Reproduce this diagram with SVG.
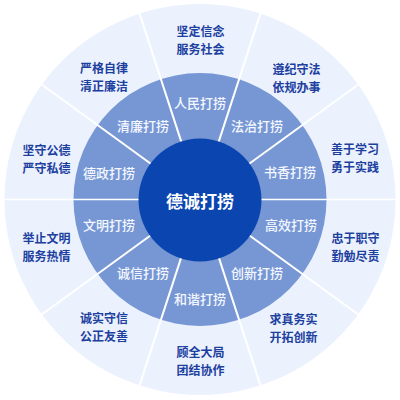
<svg xmlns="http://www.w3.org/2000/svg" width="400" height="400" viewBox="0 0 400 400">
<style>
.outer{fill:#EBF2FE}
.mid{fill:#7797D4}
.core{fill:#0A45B0}
.div{stroke:#FFFFFF;stroke-width:2;stroke-linecap:butt}
.ot{font-family:"Noto Sans CJK SC","Noto Sans",sans-serif;font-size:12px;font-weight:700;fill:#1D409E;text-anchor:middle;dominant-baseline:central}
.mt{font-family:"Noto Sans CJK SC","Noto Sans",sans-serif;font-size:13px;font-weight:500;fill:#F4F7FF;text-anchor:middle;dominant-baseline:central}
.ct{font-family:"Noto Sans CJK SC","Noto Sans",sans-serif;font-size:17px;font-weight:700;fill:#FFFFFF;text-anchor:middle;dominant-baseline:central}
</style>
<rect width="400" height="400" fill="#FFFFFF"/>
<g id="rings">
<circle class="outer" cx="200" cy="199.5" r="195.5"/>
<circle class="mid" cx="200" cy="199.5" r="126.5"/>
</g>
<g id="connectors">
<line class="div" x1="260" y1="199.5" x2="396" y2="199.5" style="stroke-width:1.5"/>
<line class="div" x1="248.5" y1="234.8" x2="358.6" y2="314.7"/>
<line class="div" x1="218.5" y1="256.6" x2="260.6" y2="385.9"/>
<line class="div" x1="181.5" y1="256.6" x2="139.4" y2="385.9"/>
<line class="div" x1="151.5" y1="234.8" x2="41.4" y2="314.7"/>
<line class="div" x1="140" y1="199.5" x2="4" y2="199.5" style="stroke-width:1.5"/>
<line class="div" x1="151.5" y1="164.2" x2="41.4" y2="84.3"/>
<line class="div" x1="181.5" y1="142.4" x2="139.4" y2="13.1"/>
<line class="div" x1="218.5" y1="142.4" x2="260.6" y2="13.1"/>
<line class="div" x1="248.5" y1="164.2" x2="358.6" y2="84.3"/>
</g>
<g id="center">
<circle class="core" cx="200" cy="200" r="61.5"/>
<text class="ct" x="200" y="200">德诚打捞</text>
</g>
<g id="mid-renmin"><text class="mt" x="200" y="102">人民打捞</text></g>
<g id="mid-fazhi"><text class="mt" x="257" y="125">法治打捞</text></g>
<g id="mid-shuxiang"><text class="mt" x="290" y="171">书香打捞</text></g>
<g id="mid-gaoxiao"><text class="mt" x="291" y="224">高效打捞</text></g>
<g id="mid-chuangxin"><text class="mt" x="257" y="272">创新打捞</text></g>
<g id="mid-hexie"><text class="mt" x="200" y="298">和谐打捞</text></g>
<g id="mid-chengxin"><text class="mt" x="143" y="272">诚信打捞</text></g>
<g id="mid-wenming"><text class="mt" x="109" y="224">文明打捞</text></g>
<g id="mid-dezheng"><text class="mt" x="109" y="172">德政打捞</text></g>
<g id="mid-qinglian"><text class="mt" x="143" y="125">清廉打捞</text></g>
<g id="out-1"><text class="ot" x="200.5" y="30">坚定信念</text><text class="ot" x="200.5" y="48">服务社会</text></g>
<g id="out-2"><text class="ot" x="296.5" y="68">遵纪守法</text><text class="ot" x="296.5" y="86">依规办事</text></g>
<g id="out-3"><text class="ot" x="355" y="148">善于学习</text><text class="ot" x="355" y="166">勇于实践</text></g>
<g id="out-4"><text class="ot" x="355.5" y="237">忠于职守</text><text class="ot" x="355.5" y="255">勤勉尽责</text></g>
<g id="out-5"><text class="ot" x="293.5" y="318">求真务实</text><text class="ot" x="293.5" y="336">开拓创新</text></g>
<g id="out-6"><text class="ot" x="200.5" y="351">顾全大局</text><text class="ot" x="200.5" y="369">团结协作</text></g>
<g id="out-7"><text class="ot" x="104" y="317">诚实守信</text><text class="ot" x="104" y="335">公正友善</text></g>
<g id="out-8"><text class="ot" x="46.5" y="237">举止文明</text><text class="ot" x="46.5" y="255">服务热情</text></g>
<g id="out-9"><text class="ot" x="46.5" y="149">坚守公德</text><text class="ot" x="46.5" y="167">严守私德</text></g>
<g id="out-10"><text class="ot" x="104" y="67">严格自律</text><text class="ot" x="104" y="85">清正廉洁</text></g>
</svg>
